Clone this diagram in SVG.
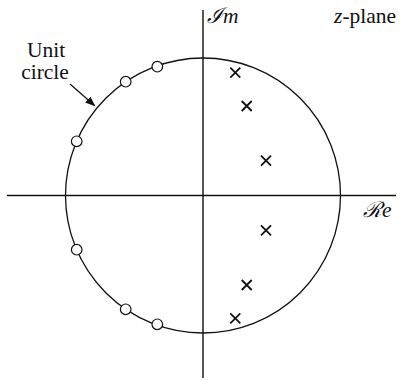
<svg xmlns="http://www.w3.org/2000/svg" width="402" height="380" viewBox="0 0 402 380">
<style>
.ax{stroke:#111;stroke-width:1.4;fill:none}
.uc{stroke:#111;stroke-width:1.3;fill:none}
.zero{stroke:#111;stroke-width:1.2;fill:#fff}
.pole{stroke:#111;stroke-width:1.8;fill:none}
.t{font-family:"Liberation Serif","DejaVu Serif",serif;font-size:21.5px;fill:#111}
.i{font-style:italic}
</style>
<defs>
<marker id="ah" markerWidth="10" markerHeight="8" refX="9" refY="4" orient="auto" markerUnits="userSpaceOnUse">
<path d="M0,0 L10,4 L0,8 Z" fill="#111"/>
</marker>
</defs>
<rect width="402" height="380" fill="#fff"/>
<g id="axes">
<line class="ax" x1="7" y1="195.5" x2="396" y2="195.5"/>
<line class="ax" x1="203" y1="10" x2="203" y2="378"/>
</g>
<g id="unit-circle">
<circle class="uc" cx="203" cy="195.5" r="137.5"/>
</g>
<g id="connectors">
<line x1="70" y1="84" x2="94.5" y2="105.5" stroke="#111" stroke-width="1.2" marker-end="url(#ah)"/>
</g>
<g id="zeros">
<circle class="zero" cx="76.7" cy="141.3" r="5.3"/>
<circle class="zero" cx="125.7" cy="81.7" r="5.3"/>
<circle class="zero" cx="157.3" cy="66.7" r="5.3"/>
<circle class="zero" cx="76.7" cy="249.7" r="5.3"/>
<circle class="zero" cx="125.7" cy="309.3" r="5.3"/>
<circle class="zero" cx="157.3" cy="324.3" r="5.3"/>
</g>
<g id="poles">
<path class="pole" d="M230.3,67.7 l10,10 m0,-10 l-10,10"/>
<path class="pole" d="M241.7,101 l10,10 m0,-10 l-10,10"/>
<path class="pole" d="M261,155.7 l10,10 m0,-10 l-10,10"/>
<path class="pole" d="M261,225.3 l10,10 m0,-10 l-10,10"/>
<path class="pole" d="M241.7,280 l10,10 m0,-10 l-10,10"/>
<path class="pole" d="M230.3,313.3 l10,10 m0,-10 l-10,10"/>
</g>
<g id="labels">
<text class="t i" x="207" y="23">ℐm</text>
<text class="t" x="334" y="23"><tspan class="i">z</tspan>-plane</text>
<text class="t i" x="363" y="217">ℛe</text>
<text class="t" x="46" y="57" text-anchor="middle">Unit</text>
<text class="t" x="45" y="79" text-anchor="middle">circle</text>
</g>
</svg>
